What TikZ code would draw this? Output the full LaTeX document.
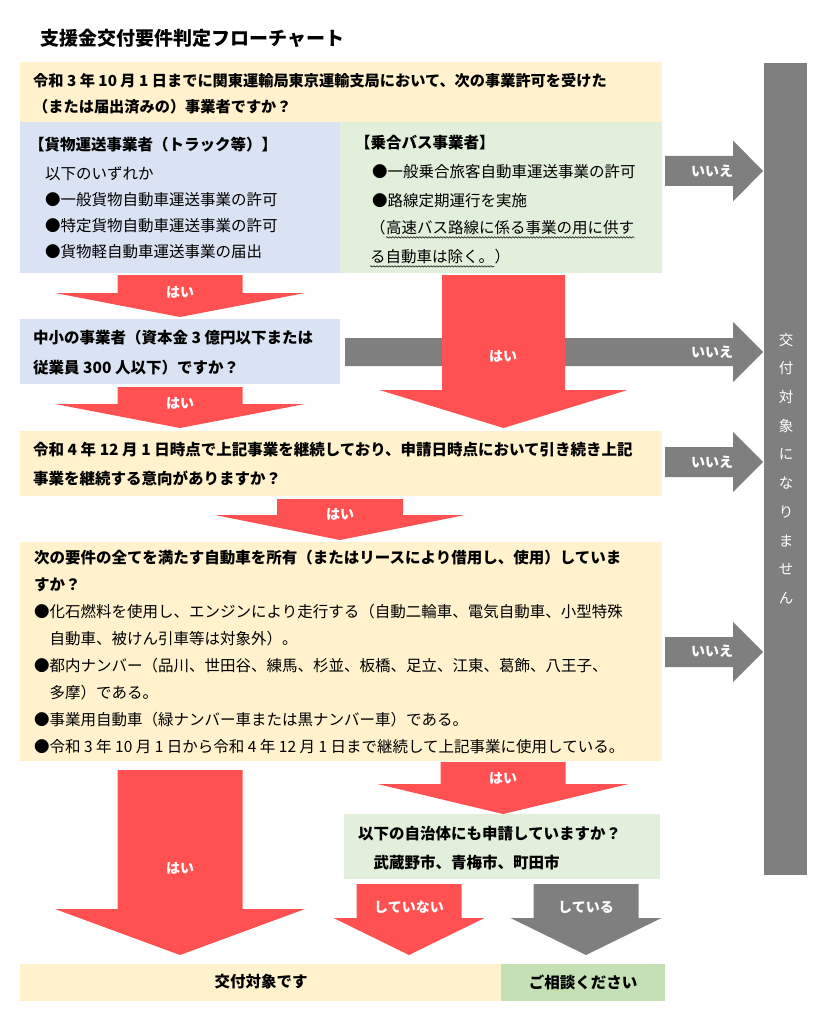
\documentclass[tikz,border=0pt]{standalone}
\usepackage{fontspec}
\setmainfont{Noto Sans CJK JP}
\usetikzlibrary{positioning,decorations.pathmorphing}

\definecolor{paleyellow}{HTML}{FFF2CC}
\definecolor{paleblue}{HTML}{DAE3F3}
\definecolor{palegreen}{HTML}{E2EFDA}
\definecolor{midgreen}{HTML}{C5E0B4}
\definecolor{hotred}{HTML}{FF5151}
\definecolor{stopgrey}{HTML}{7F7F7F}

% colour, centre x, shaft top, head base, tip y, shaft half width, head half width
\newcommand{\downblock}[7]{%
  \fill[#1] (#2-#6,#3) -- (#2+#6,#3) -- (#2+#6,#4) -- (#2+#7,#4) -- (#2,#5)
    -- (#2-#7,#4) -- (#2-#6,#4) -- cycle;}
% colour, centre y, shaft left, head base, tip x, shaft half height, head half height
\newcommand{\rightblock}[7]{%
  \fill[#1] (#3,#2-#6) -- (#4,#2-#6) -- (#4,#2-#7) -- (#5,#2) -- (#4,#2+#7)
    -- (#4,#2+#6) -- (#3,#2+#6) -- cycle;}

\begin{document}
\begin{tikzpicture}[x=1pt,y=-1pt]
  \tikzset{
    panel/.style={anchor=north west,inner sep=0pt,outer sep=0pt},
    bodytext/.style={anchor=north west,inner sep=0pt,align=left,font=\fontsize{15.5}{27}\selectfont},
    asktext/.style={bodytext,font=\bfseries\fontsize{15.5}{27}\selectfont},
    oneline/.style={anchor=west,inner sep=0pt,font=\fontsize{15.5}{27}\selectfont},
    arrowlabel/.style={inner sep=0pt,text=white,font=\bfseries\fontsize{14}{14}\selectfont},
    wavy/.style={decorate,decoration={snake,amplitude=0.7pt,segment length=3pt},line width=0.5pt}
  }
  \useasboundingbox (0,0) rectangle (836,1024);

  \node[anchor=west,inner sep=0pt,font=\bfseries\fontsize{19}{19}\selectfont] (title) at (40,38) {支援金交付要件判定フローチャート};

  % panels
  \node[panel,fill=paleyellow,minimum width=642pt,minimum height=60pt] (permit) at (20,62) {};
  \node[panel,fill=paleblue,minimum width=320pt,minimum height=151pt] (cargo) at (20,122) {};
  \node[panel,fill=palegreen,minimum width=322pt,minimum height=151pt] (bus) at (340,122) {};
  \node[panel,fill=paleblue,minimum width=320pt,minimum height=65pt] (smallfirm) at (20,319) {};
  \node[panel,fill=paleyellow,minimum width=642pt,minimum height=65pt] (ongoing) at (20,431) {};
  \node[panel,fill=paleyellow,minimum width=642pt,minimum height=219pt] (vehicle) at (20,542) {};
  \node[panel,fill=palegreen,minimum width=316pt,minimum height=65pt] (otherlocal) at (344,814) {};
  \node[panel,fill=paleyellow,minimum width=481pt,minimum height=37pt] (eligible) at (20,964) {};
  \node[panel,fill=midgreen,minimum width=164pt,minimum height=37pt] (consult) at (501,964) {};
  \node[panel,fill=stopgrey,minimum width=43pt,minimum height=812pt] (refuse) at (764,63) {};

  % block arrows
  \downblock{hotred}{180}{275}{293}{317}{62.5}{125}
  \downblock{hotred}{180}{387}{404}{428}{62.5}{125}
  \rightblock{stopgrey}{352}{345}{733}{763}{14}{30}
  \downblock{hotred}{503.5}{275}{390}{428}{61.5}{124}
  \downblock{hotred}{340}{499}{515}{540}{63}{125}
  \downblock{hotred}{180}{770}{909}{955}{62.5}{125}
  \downblock{hotred}{503}{762}{784}{814}{62.5}{125.5}
  \downblock{hotred}{409}{884}{918}{955}{52.5}{75.5}
  \downblock{stopgrey}{586}{884}{918}{955}{52.5}{75.5}
  \rightblock{stopgrey}{171}{665}{733}{763}{15}{30.5}
  \rightblock{stopgrey}{462}{665}{733}{763}{15}{30}
  \rightblock{stopgrey}{652}{665}{733}{763}{15}{30}

  % texts
  \node[asktext,font=\bfseries\fontsize{15.2}{26}\selectfont] (permittext) at (33,73)
    {令和 3 年 10 月 1 日までに関東運輸局東京運輸支局において、次の事業許可を受けた\\（または届出済みの）事業者ですか？};
  \node[oneline,font=\bfseries\fontsize{15.5}{27}\selectfont] (cargohead) at (29,145) {【貨物運送事業者（トラック等）】};
  \node[bodytext,font=\fontsize{15.5}{26}\selectfont] (cargolist) at (45,166)
    {以下のいずれか\\●一般貨物自動車運送事業の許可\\●特定貨物自動車運送事業の許可\\●貨物軽自動車運送事業の届出};
  \node[oneline,font=\bfseries\fontsize{15.5}{27}\selectfont] (bushead) at (355,143) {【乗合バス事業者】};
  \node[bodytext,font=\fontsize{15.5}{29}\selectfont] (buslist) at (372,164)
    {●一般乗合旅客自動車運送事業の許可\\●路線定期運行を実施};
  \node[oneline] (busnotea) at (370,228) {（};
  \node[oneline,base right=0pt of busnotea] (busnoteb) {高速バス路線に係る事業の用に供す};
  \node[oneline] (busnotec) at (370,257) {る自動車は除く。};
  \node[oneline,base right=0pt of busnotec] (busnoted) {）};
  \draw[wavy] ([yshift=-2pt]busnoteb.south west) -- ([yshift=-2pt]busnoteb.south east);
  \draw[wavy] ([yshift=-2pt]busnotec.south west) -- ([yshift=-2pt]busnotec.south east);
  \node[asktext,font=\bfseries\fontsize{15.5}{30}\selectfont] (smalltext) at (33,330)
    {中小の事業者（資本金 3 億円以下または\\従業員 300 人以下）ですか？};
  \node[asktext,font=\bfseries\fontsize{15.5}{29}\selectfont] (ongoingtext) at (33,442)
    {令和 4 年 12 月 1 日時点で上記事業を継続しており、申請日時点において引き続き上記\\事業を継続する意向がありますか？};
  \node[asktext,font=\bfseries\fontsize{15.5}{26.5}\selectfont] (vehicleask) at (34,550)
    {次の要件の全てを満たす自動車を所有（またはリースにより借用し、使用）していま\\すか？};
  \node[bodytext] (vehiclelist) at (34,604)
    {●化石燃料を使用し、エンジンにより走行する（自動二輪車、電気自動車、小型特殊\\
     　自動車、被けん引車等は対象外）。\\
     ●都内ナンバー（品川、世田谷、練馬、杉並、板橋、足立、江東、葛飾、八王子、\\
     　多摩）である。\\
     ●事業用自動車（緑ナンバー車または黒ナンバー車）である。\\
     ●令和 3 年 10 月 1 日から令和 4 年 12 月 1 日まで継続して上記事業に使用している。};
  \node[asktext,font=\bfseries\fontsize{15.5}{29}\selectfont] (localtext) at (358,826)
    {以下の自治体にも申請していますか？\\　武蔵野市、青梅市、町田市};
  \node[inner sep=0pt,font=\bfseries\fontsize{15.5}{15.5}\selectfont] (eligibletext) at (261,982) {交付対象です};
  \node[inner sep=0pt,font=\bfseries\fontsize{15.5}{15.5}\selectfont] (consulttext) at (583,982) {ご相談ください};
  \node[inner sep=0pt,text=white,align=center,font=\fontsize{14.5}{28.7}\selectfont] (refusetext) at (786,468.5)
    {交\\付\\対\\象\\に\\な\\り\\ま\\せ\\ん};

  % arrow labels
  \node[arrowlabel] (yescargo) at (180,292) {はい};
  \node[arrowlabel] (yessmall) at (180,403) {はい};
  \node[arrowlabel] (yesbus) at (503,356) {はい};
  \node[arrowlabel] (yesongoing) at (340,514) {はい};
  \node[arrowlabel] (yesvehicle) at (180,868) {はい};
  \node[arrowlabel] (yeslocal) at (503,778) {はい};
  \node[arrowlabel] (notapplied) at (409,907) {していない};
  \node[arrowlabel] (applied) at (586,907) {している};
  \node[arrowlabel] (nopermit) at (712,171) {いいえ};
  \node[arrowlabel] (nosmall) at (712,352) {いいえ};
  \node[arrowlabel] (noongoing) at (712,462) {いいえ};
  \node[arrowlabel] (novehicle) at (712,651) {いいえ};
\end{tikzpicture}
\end{document}
